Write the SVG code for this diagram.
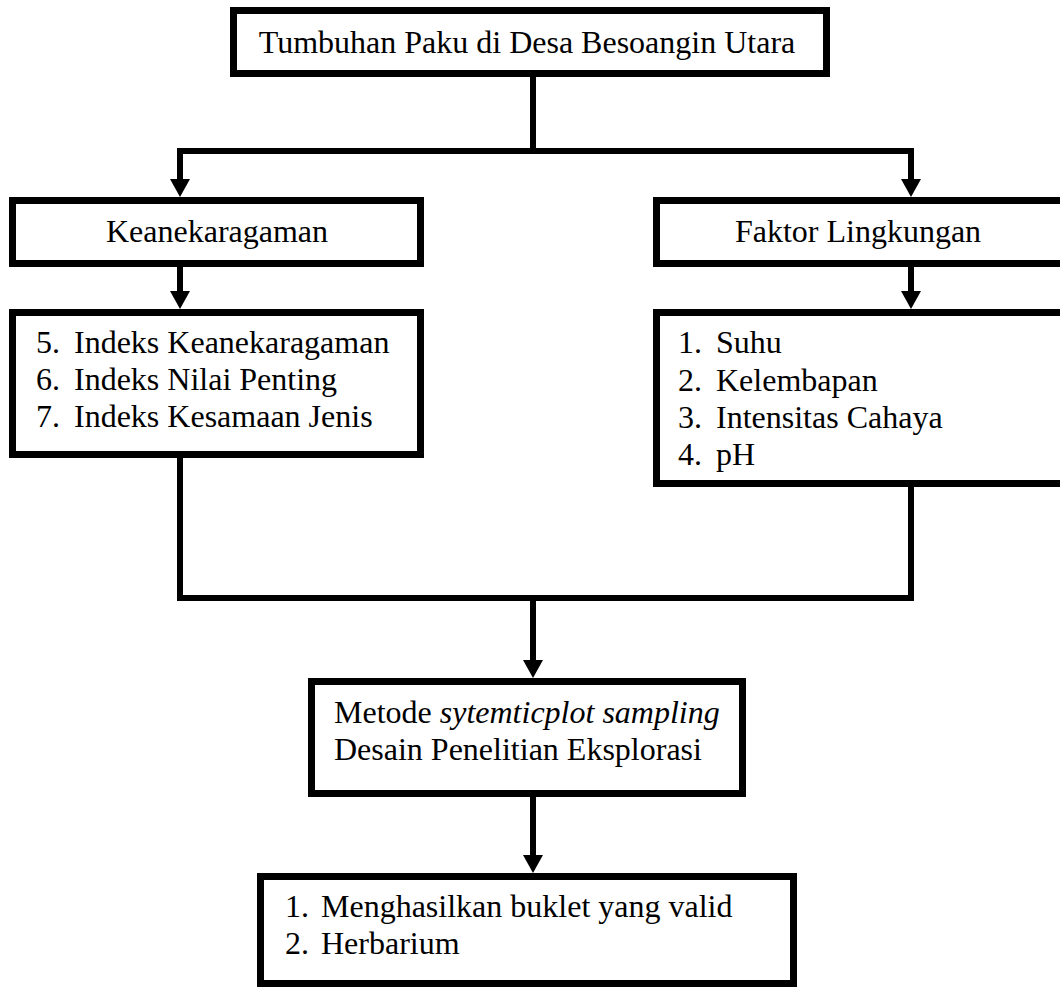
<svg xmlns="http://www.w3.org/2000/svg" width="1060" height="988" viewBox="0 0 1060 988">
<style>
.box{fill:#fff;stroke:#000;stroke-width:7}
.con{fill:none;stroke:#000;stroke-width:6}
.t{font-family:"Liberation Serif","Times New Roman",serif;font-size:32px;fill:#000}
.c{text-anchor:middle}
</style>
<defs>
<marker id="arr" markerUnits="userSpaceOnUse" markerWidth="18" markerHeight="20" viewBox="0 0 18 20" refX="8" refY="10" orient="auto">
<path d="M0,0 L18,10 L0,20 z" fill="#000"/>
</marker>
</defs>
<rect width="1060" height="988" fill="#fff"/>
<g id="connectors">
<path class="con" d="M533,77 V151"/>
<path class="con" d="M177,151 H914"/>
<path class="con" d="M180,151 V187" marker-end="url(#arr)"/>
<path class="con" d="M911,151 V187" marker-end="url(#arr)"/>
<path class="con" d="M180,267 V299" marker-end="url(#arr)"/>
<path class="con" d="M911,267 V299" marker-end="url(#arr)"/>
<path class="con" d="M180,458 V598"/>
<path class="con" d="M911,487 V598"/>
<path class="con" d="M177,598 H914"/>
<path class="con" d="M533,598 V668" marker-end="url(#arr)"/>
<path class="con" d="M533,797 V863" marker-end="url(#arr)"/>
</g>
<g id="node-top">
<rect class="box" x="233.5" y="10.5" width="593" height="63"/>
<text class="t c" x="527" y="53">Tumbuhan Paku di Desa Besoangin Utara</text>
</g>
<g id="node-keanekaragaman">
<rect class="box" x="12.5" y="200.5" width="408" height="63"/>
<text class="t c" x="217" y="242">Keanekaragaman</text>
</g>
<g id="node-faktor">
<rect class="box" x="656.5" y="200.5" width="413" height="63"/>
<text class="t c" x="858" y="242">Faktor Lingkungan</text>
</g>
<g id="node-indeks">
<rect class="box" x="12.5" y="312.5" width="408" height="142"/>
<text class="t" x="36" y="353">5.</text><text class="t" x="74" y="353">Indeks Keanekaragaman</text>
<text class="t" x="36" y="390">6.</text><text class="t" x="74" y="390">Indeks Nilai Penting</text>
<text class="t" x="36" y="427">7.</text><text class="t" x="74" y="427">Indeks Kesamaan Jenis</text>
</g>
<g id="node-lingkungan">
<rect class="box" x="656.5" y="312.5" width="413" height="171"/>
<text class="t" x="678" y="353">1.</text><text class="t" x="716" y="353">Suhu</text>
<text class="t" x="678" y="391">2.</text><text class="t" x="716" y="391">Kelembapan</text>
<text class="t" x="678" y="428">3.</text><text class="t" x="716" y="428">Intensitas Cahaya</text>
<text class="t" x="678" y="465">4.</text><text class="t" x="716" y="465">pH</text>
</g>
<g id="node-metode">
<rect class="box" x="311.5" y="681.5" width="431" height="112"/>
<text class="t" x="334" y="723">Metode <tspan font-style="italic">sytemticplot sampling</tspan></text>
<text class="t" x="334" y="760">Desain Penelitian Eksplorasi</text>
</g>
<g id="node-hasil">
<rect class="box" x="260.5" y="876.5" width="533" height="107"/>
<text class="t" x="285" y="917">1.</text><text class="t" x="321" y="917">Menghasilkan buklet yang valid</text>
<text class="t" x="285" y="954">2.</text><text class="t" x="321" y="954">Herbarium</text>
</g>
</svg>
